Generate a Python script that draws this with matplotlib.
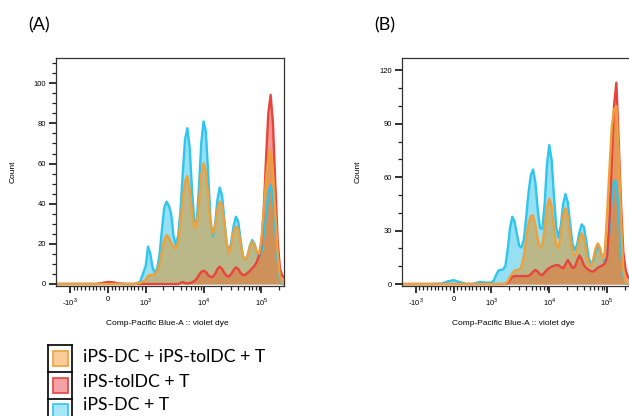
import numpy as np
import matplotlib.pyplot as plt
from matplotlib.patches import Rectangle
from matplotlib.lines import Line2D

plt.rcParams['font.family'] = ['Liberation Sans', 'DejaVu Sans']
plt.rcParams['mathtext.fontset'] = 'custom'
plt.rcParams['mathtext.rm'] = 'Liberation Sans'
plt.rcParams['axes.unicode_minus'] = False

fluo = [-1740, -600, -300, -150, 0, 150, 300, 500, 700, 850,
        1000, 1096, 1202, 1318, 1445, 1585, 1738, 1905, 2089, 2291,
        2512, 2754, 3020, 3311, 3631, 3981, 4365, 4786, 5248, 5754,
        6310, 6918, 7586, 8318, 9120, 10000, 10960, 12020, 13180, 14450,
        15850, 17380, 19050, 20890, 22910, 25120, 27540, 30200, 33110, 36310,
        39810, 43650, 47860, 52480, 57540, 63100, 69180, 75860, 83180, 91200,
        100000, 109600, 120200, 131800, 144500, 158500, 173800, 190500, 208900, 229100,
        251200]

# panel A counts
a_dc = [0, 0, 0, 0, 0, 0, 0, 0, 0, 1,
        9, 18.6, 15, 8, 5.5, 8, 15, 27, 38, 41,
        39, 35, 24, 19.5, 24, 36, 55, 72, 77.6, 68,
        47, 31, 31, 48, 70, 81, 76, 55, 32, 23.6,
        30, 42, 48, 44, 32, 20, 16, 21, 29, 33.5,
        31, 22, 14, 12, 14, 19, 21.9, 20, 16, 13.6,
        16, 24, 35, 45, 49.3, 43, 28, 12, 2, 0,
        0]
a_tol = [0, 0, 0, 0.5, 1, 0.8, 0.2, 0, 0, 0,
         0, 0, 0, 0, 0, 0, 0, 0, 0, 0,
         0, 0, 0, 0, 0, 0.5, 1, 0.4, 0.3, 0.4,
         0.8, 1.5, 2.5, 4.5, 6, 6.6, 6, 4.5, 3.5, 3.6,
         5, 7.5, 8.6, 7.5, 5.5, 4, 3.8, 5, 7, 8.3,
         7.5, 5.5, 4.5, 4.5, 5.5, 6.5, 7.8, 9, 11, 14,
         20, 36, 62, 85, 94.2, 80, 50, 22, 8, 4,
         3.5]
a_mix = [0, 0, 0, 0, 0, 0, 0, 0, 0, 0.5,
         2, 4, 4.5, 4.5, 5, 6.5, 10, 16, 22, 24.4,
         23, 20.5, 18.5, 18, 21, 30, 42, 51, 53.8, 47,
         36, 28, 29, 40, 54, 60, 56, 43, 30, 25,
         29, 37, 41, 39, 30, 20, 15.3, 19, 26, 28.6,
         27, 20, 14, 12, 14, 18.5, 21, 19.5, 16, 15,
         22, 36, 52, 63, 66.8, 56, 36, 16, 4, 0.5,
         0]

# panel B counts
b_dc = [0, 0, 0.3, 1.5, 2.2, 1.2, 0.2, 0, 1.2, 0.8,
        0.8, 2, 5, 7.5, 8, 8.2, 10, 19, 31, 37.8,
        35, 28, 21.5, 20.5, 25, 37, 51, 61, 64.3, 57,
        42, 31.5, 31, 45, 67, 78, 70, 50, 32, 26,
        33, 45, 50.5, 46, 34, 23, 19, 22, 29, 33.5,
        32, 24, 15, 11, 13, 18, 21.3, 19, 14.5, 12,
        17, 30, 47, 58, 57, 40, 18, 5, 0.5, 0,
        0]
b_tol = [0, 0, 0, 0, 0, 0, 0, 0, 0, 0,
         0, 0, 0, 0, 0, 0, 0, 0.5, 2.5, 4,
         4.5, 4.5, 4.5, 4.5, 4.5, 4.5, 4.5, 5.5, 7, 7.9,
         7, 5.5, 5, 6.5, 8, 9, 9.7, 10.2, 10.7, 10.5,
         9.5, 8.8, 11, 13.5, 11.5, 9, 9.5, 13, 16, 14,
         10.5, 9, 8, 7.2, 7, 8, 9.2, 9.8, 10.5, 11.5,
         15, 35, 68, 100, 113, 80, 45, 18, 8, 4,
         3]
b_mix = [0, 0, 0, 0, 0, 0, 0, 0, 0, 0,
         0, 0, 0, 0, 0, 0, 0, 1.5, 4, 6,
         7.5, 7.9, 8, 10, 16, 25, 34, 38, 38.5, 33,
         25, 20.5, 22, 31, 43, 48, 44, 32, 22, 20.5,
         28, 38, 42.5, 38, 27, 18, 15.5, 19, 25, 28.4,
         26, 18, 11, 10, 14, 20, 22.8, 20, 14, 18,
         40, 64, 88, 98, 100, 72, 38, 8, 1, 0,
         0]

labels = ['iPS-DC + iPS-tolDC + T', 'iPS-tolDC + T', 'iPS-DC + T']
edge = {'orange': '#F0A03A', 'red': '#E8443C', 'cyan': '#2EC6EE'}
fill = {'orange': '#D89830', 'red': '#E8443C', 'cyan': '#30C0E8'}
alpha = {'orange': 0.55, 'red': 0.55, 'cyan': 0.5}
light = {'orange': '#F9CC9A', 'red': '#F4A2A6', 'cyan': '#A6E6F8'}

fig = plt.figure(figsize=(6.29, 4.16), dpi=100)
W, H = 629.0, 416.0


def panel(left_px, width_px, xmax, series, ymax, ymin, yticks, yminor):
    ax = fig.add_axes([left_px / W, (H - 286) / H, width_px / W, 228 / H])
    ax.set_xscale('symlog', linthresh=1000, linscale=0.59)
    for key, ys in series:
        ax.fill_between(fluo, ys, 0, color=fill[key], alpha=alpha[key], lw=0)
        ax.plot(fluo, ys, color=edge[key], lw=1.7, solid_joinstyle='round')
    ax.set_xlim(-1740, xmax)
    ax.set_ylim(ymin, ymax)
    ax.set_xticks([-1000, 0, 1000, 10000, 100000])
    ax.set_xticklabels(['-10$^3$', '0', '10$^3$', '10$^4$', '10$^5$'])
    minor = list(np.arange(-900, 0, 100)) + list(np.arange(100, 1000, 100)) + \
        list(np.arange(2e3, 1e4, 1e3)) + list(np.arange(2e4, 1e5, 1e4)) + [2e5]
    ax.set_xticks(minor, minor=True)
    ax.set_yticks(yticks)
    ax.set_yticks(yminor, minor=True)
    ax.tick_params(axis='both', which='major', labelsize=5.5, length=5, width=1.3, color='#222222', pad=2)
    ax.tick_params(axis='both', which='minor', length=3, width=0.9, color='#222222')
    for s in ax.spines.values():
        s.set_color('#333333')
        s.set_linewidth(0.9)
    ax.set_ylabel('Count', fontsize=6)
    ax.yaxis.set_label_coords(-0.172, 0.5)
    ax.set_xlabel('Comp-Pacific Blue-A :: violet dye', fontsize=6)
    ax.xaxis.set_label_coords(0.49 * 228 / width_px, -0.15)
    return ax


panel(56, 228, 246000, [('cyan', a_dc), ('red', a_tol), ('orange', a_mix)],
      112.6, -1, [0, 20, 40, 60, 80, 100], np.arange(5, 115, 5))
panel(401.7, 231, 277000, [('cyan', b_dc), ('red', b_tol), ('orange', b_mix)],
      126.9, -1.1, [0, 30, 60, 90, 120], np.arange(10, 130, 10))

fig.text(39.5 / W, 1 - 25 / H, '(A)', fontsize=13, ha='center', va='center', family=['Lato', 'DejaVu Sans'])
fig.text(385 / W, 1 - 25 / H, '(B)', fontsize=13, ha='center', va='center', family=['Lato', 'DejaVu Sans'])

# legend box drawn like the table in the reference
tr = fig.transFigure
for xp in (48.3, 72.3):
    fig.add_artist(Line2D([xp / W, xp / W], [1 - 345 / H, 0], transform=tr, color='black', lw=1.2))
for yp in (345, 371.7, 399.3):
    fig.add_artist(Line2D([48.3 / W, 72.3 / W], [1 - yp / H, 1 - yp / H], transform=tr, color='black', lw=1.2))
for lab, key, yc_box, yc_txt in zip(labels, ['orange', 'red', 'cyan'], [358.5, 385.5, 412], [357, 382, 405]):
    fig.add_artist(Rectangle((52.5 / W, 1 - (yc_box + 7.5) / H), 15 / W, 15 / H, transform=tr,
                             facecolor=light[key], edgecolor=edge[key], lw=1.2))
    fig.text(83 / W, 1 - yc_txt / H, lab, fontsize=12.7, ha='left', va='center',
             family=['Lato', 'DejaVu Sans'])

fig.savefig('out.png', dpi=100)
